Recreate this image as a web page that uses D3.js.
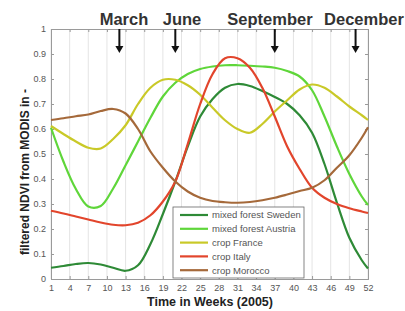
<!DOCTYPE html>
<html>
<head>
<meta charset="utf-8">
<script src="https://cdn.jsdelivr.net/npm/d3@7"></script>
<style>
  body { margin: 0; background: #fff; }
  svg { font-family: "Liberation Sans", Arial, sans-serif; }
</style>
</head>
<body>
<div class="chart"></div>
<script>
// weeks sampled along the year
const weeks = [1, 3, 5, 7, 9, 11, 13, 15, 17, 19, 21, 23, 25, 27, 29, 31, 33, 35, 37, 39, 41, 43, 45, 47, 49, 51, 52];

const forestSweden = [0.045, 0.052, 0.060, 0.064, 0.058, 0.045, 0.033, 0.055, 0.140, 0.260, 0.390, 0.530, 0.650, 0.720, 0.765, 0.780, 0.772, 0.752, 0.728, 0.700, 0.655, 0.585, 0.460, 0.305, 0.165, 0.075, 0.042];
const forestAustria = [0.605, 0.470, 0.360, 0.290, 0.292, 0.362, 0.455, 0.550, 0.645, 0.730, 0.785, 0.820, 0.840, 0.850, 0.855, 0.855, 0.853, 0.850, 0.845, 0.832, 0.810, 0.755, 0.650, 0.530, 0.420, 0.330, 0.296];
const cropFrance = [0.612, 0.580, 0.550, 0.525, 0.522, 0.560, 0.615, 0.700, 0.765, 0.797, 0.797, 0.775, 0.737, 0.685, 0.635, 0.600, 0.585, 0.620, 0.670, 0.715, 0.758, 0.778, 0.765, 0.730, 0.690, 0.655, 0.636];
const cropItaly = [0.273, 0.262, 0.250, 0.238, 0.226, 0.217, 0.215, 0.225, 0.255, 0.310, 0.390, 0.540, 0.700, 0.820, 0.883, 0.883, 0.845, 0.765, 0.650, 0.530, 0.440, 0.365, 0.325, 0.300, 0.283, 0.270, 0.264];
const cropMorocco = [0.636, 0.643, 0.651, 0.658, 0.672, 0.680, 0.662, 0.600, 0.510, 0.445, 0.390, 0.350, 0.325, 0.312, 0.307, 0.305, 0.308, 0.315, 0.325, 0.338, 0.352, 0.365, 0.395, 0.445, 0.495, 0.565, 0.607];

const seriesNames = ["mixed forest Sweden", "mixed forest Austria", "crop France", "crop Italy", "crop Morocco"];
const seriesValues = [forestSweden, forestAustria, cropFrance, cropItaly, cropMorocco];
const seriesColors = ["#2e8a36", "#5fd63a", "#c9c928", "#e2452c", "#a5693a"];

const xTicks = [1, 4, 7, 10, 13, 16, 19, 22, 25, 28, 31, 34, 37, 40, 43, 46, 49, 52];
const yTicks = [0, 0.1, 0.2, 0.3, 0.4, 0.5, 0.6, 0.7, 0.8, 0.9, 1];

const monthNames = ["March", "June", "September", "December"];
const monthWeeks = [12, 21, 37, 50];

const W = 405, H = 311;
const plotLeft = 51, plotRight = 368, plotTop = 29, plotBottom = 279;

const svg = d3.select(".chart").append("svg")
    .attr("width", W)
    .attr("height", H);

const x = d3.scaleLinear().domain([1, 52]).range([plotLeft, plotRight]);
const y = d3.scaleLinear().domain([0, 1]).range([plotBottom, plotTop]);

// vertical grid lines
svg.append("g")
    .selectAll("line")
    .data(xTicks)
    .enter().append("line")
    .attr("x1", d => x(d)).attr("x2", d => x(d))
    .attr("y1", plotTop).attr("y2", plotBottom)
    .attr("stroke", "#e4e4e4")
    .attr("stroke-width", 1);

// axes
svg.append("g")
    .attr("transform", `translate(0,${plotBottom})`)
    .call(d3.axisBottom(x).tickValues(xTicks).tickSize(-3).tickPadding(6).tickFormat(d3.format("d")));
svg.append("g")
    .attr("transform", `translate(${plotLeft},0)`)
    .call(d3.axisLeft(y).tickValues(yTicks).tickSize(-3).tickPadding(5).tickFormat(d => d === 0 || d === 1 ? d : d3.format(".1f")(d)));
svg.append("g")
    .attr("transform", `translate(${plotRight},0)`)
    .call(d3.axisRight(y).tickValues(yTicks).tickSize(-3).tickFormat(""));
svg.append("g")
    .attr("transform", `translate(0,${plotTop})`)
    .call(d3.axisTop(x).tickValues(xTicks).tickSize(-3).tickFormat(""));

svg.selectAll(".domain").attr("stroke", "#9a9a9a");
svg.selectAll(".tick line").attr("stroke", "#9a9a9a");
svg.selectAll(".tick text").attr("fill", "#555").style("font-size", "9px");

// curves
const line = d3.line()
    .x((d, i) => x(weeks[i]))
    .y(d => y(d))
    .curve(d3.curveCatmullRom.alpha(0.5));

svg.append("g")
    .selectAll("path")
    .data(seriesValues)
    .enter().append("path")
    .attr("d", d => line(d))
    .attr("fill", "none")
    .attr("stroke", (d, i) => seriesColors[i])
    .attr("stroke-width", 2.2);

// legend
const legend = svg.append("g").attr("transform", "translate(173,207)");
legend.append("rect")
    .attr("width", 131).attr("height", 71)
    .attr("fill", "#fff")
    .attr("stroke", "#666")
    .attr("stroke-width", 0.8);
seriesNames.forEach((name, i) => {
    const row = legend.append("g").attr("transform", `translate(0,${8 + i * 13.8})`);
    row.append("line")
        .attr("x1", 7).attr("x2", 35)
        .attr("stroke", seriesColors[i])
        .attr("stroke-width", 2.2);
    row.append("text")
        .attr("x", 39).attr("dy", "0.35em")
        .style("font-size", "9.5px")
        .attr("fill", "#555")
        .text(name);
});

// month arrows
const arrows = svg.append("g");
monthWeeks.forEach(w => {
    arrows.append("line")
        .attr("x1", x(w)).attr("x2", x(w))
        .attr("y1", plotTop).attr("y2", plotTop + 19)
        .attr("stroke", "#111").attr("stroke-width", 2);
    arrows.append("path")
        .attr("d", `M${x(w) - 4},${plotTop + 17}L${x(w) + 4},${plotTop + 17}L${x(w)},${plotTop + 24}Z`)
        .attr("fill", "#111");
});

// month labels
const monthLabelX = [124, 182, 270, 364];
svg.append("g")
    .selectAll("text")
    .data(monthNames)
    .enter().append("text")
    .attr("x", (d, i) => monthLabelX[i])
    .attr("y", 25)
    .attr("text-anchor", "middle")
    .style("font-size", "16.5px")
    .style("font-weight", "bold")
    .attr("fill", "#333")
    .text(d => d);

// axis titles
svg.append("text")
    .attr("x", 210).attr("y", 306)
    .attr("text-anchor", "middle")
    .style("font-size", "12.5px")
    .style("font-weight", "bold")
    .attr("fill", "#222")
    .text("Time in Weeks (2005)");

svg.append("text")
    .attr("transform", "translate(29,172) rotate(-90)")
    .attr("text-anchor", "middle")
    .style("font-size", "12px")
    .style("font-weight", "bold")
    .attr("fill", "#222")
    .text("filtered NDVI from MODIS in -");
</script>
</body>
</html>
